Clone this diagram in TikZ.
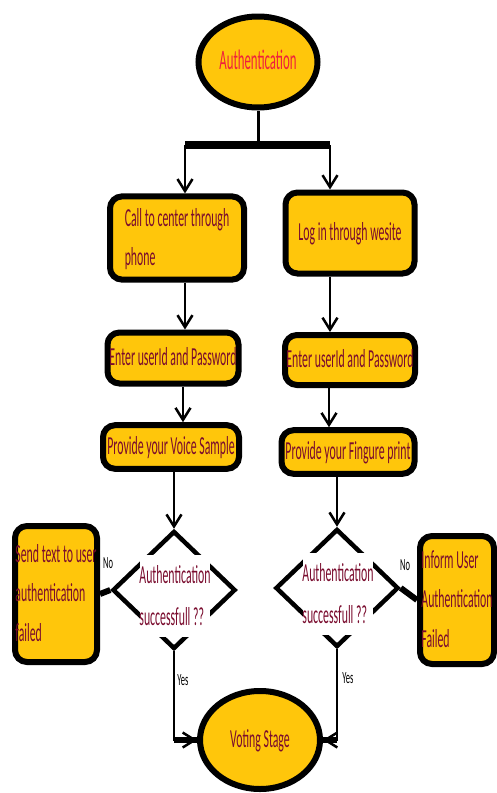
\documentclass[tikz,border=0pt]{standalone}
\usepackage{fontspec}
\setmainfont{Carlito}
\usetikzlibrary{shapes.geometric,arrows.meta}

\definecolor{boxgold}{HTML}{FFC60B}
\definecolor{txtmaroon}{HTML}{7A0C2E}
\definecolor{txtred}{HTML}{F0203C}

% tall narrow lettering, one or more lines
\newcommand{\tall}[1]{\scalebox{1}[2.2]{\begin{tabular}{@{}l@{}}#1\end{tabular}}}

\tikzset{
  stepbox/.style={rectangle, rounded corners=12pt, draw=black, line width=6pt,
    fill=boxgold, text=txtmaroon, inner xsep=0pt, inner ysep=2pt},
  endpoint/.style={ellipse, draw=black, line width=6pt, fill=boxgold, inner sep=0pt},
  decision/.style={diamond, draw=black, line width=4.5pt, fill=white,
    minimum width=123pt, minimum height=118pt, inner sep=0pt},
  decisiontext/.style={fill=white, inner sep=-1pt, text=txtmaroon,
    font=\fontsize{11.8}{19}\selectfont},
  conn/.style={line width=2.5pt, -{Straight Barb[length=12pt,width=15pt]}},
  tag/.style={font=\fontsize{8.5}{10}\selectfont, inner sep=0pt},
}

\begin{document}
\begin{tikzpicture}[x=1pt, y=-1pt, font=\fontsize{11.8}{18}\selectfont]
    \useasboundingbox (0,0) rectangle (497,793);

    % Start
    \node[endpoint, minimum width=119pt, minimum height=91pt, text=txtred,
      font=\fontsize{12.8}{18}\selectfont] (auth) at (258,62) {\tall{Authentication}};

    % Left branch: phone
    \node[stepbox, minimum width=134pt, minimum height=81pt] (call) at (177,238)
      {\tall{Call to center through\\phone}};
    \node[stepbox, minimum width=131pt, minimum height=51pt] (enter1) at (173,358)
      {\tall{Enter userId and Password}};
    \node[stepbox, minimum width=136pt, minimum height=41pt] (voice) at (171,447)
      {\tall{Provide your Voice Sample}};

    % Right branch: website
    \node[stepbox, minimum width=129pt, minimum height=81pt] (login) at (350,233)
      {\tall{Log in through wesite}};
    \node[stepbox, minimum width=130pt, minimum height=50pt] (enter2) at (350,360)
      {\tall{Enter userId and Password}};
    \node[stepbox, minimum width=133pt, minimum height=43pt] (finger) at (348,452)
      {\tall{Provide your Fingure print}};

    % Decisions
    \node[decision] (dec1) at (174,590) {};
    \node[decisiontext] (dec1txt) at (175,596) {\tall{Authentication\\successfull ??}};
    \node[decision] (dec2) at (337,588) {};
    \node[decisiontext] (dec2txt) at (338,594) {\tall{Authentication\\successfull ??}};

    % Failures
    \node[stepbox, minimum width=82pt, minimum height=136pt] (fail1) at (56,594)
      {\tall{Send text to user\\authentication\\failed}};
    \node[stepbox, minimum width=74pt, minimum height=128pt] (fail2) at (457,600)
      {\tall{Inform User\\Authentication\\Failed}};

    % End
    \node[endpoint, minimum width=120pt, minimum height=98pt, text=txtmaroon] (vote) at (260,740)
      {\tall{Voting Stage}};

    % Split after start
    \coordinate (split) at (258,145);
    \coordinate (barL) at (185,145);
    \coordinate (barR) at (330,145);
    \draw[line width=3pt] (auth.south) -- (split);
    \draw[line width=8pt] (barL) -- (barR);
    \draw[conn] (barL) -- (barL |- call.north);
    \draw[conn] (barR) -- (barR |- login.north);

    % Steps
    \draw[conn] ([xshift=8pt]call.south) -- ([xshift=8pt]call.south |- enter1.north);
    \draw[conn] ([xshift=10pt]enter1.south) -- ([xshift=10pt]enter1.south |- voice.north);
    \draw[conn] (voice.south -| dec1.north) -- (dec1.north);
    \draw[conn] ([xshift=-20pt]login.south) -- ([xshift=-20pt]login.south |- enter2.north);
    \draw[conn] ([xshift=-21pt]enter2.south) -- ([xshift=-21pt]enter2.south |- finger.north);
    \draw[conn] (finger.south -| dec2.north) -- (dec2.north);

    % No
    \draw[line width=6pt] (dec1.west) -- (fail1.east);
    \draw[line width=6pt] (dec2.east) -- (fail2.west);
    \node[tag] (no1) at (108,563) {\scalebox{1}[2]{No}};
    \node[tag] (no2) at (405,565) {\scalebox{1}[2]{No}};

    % Yes
    \coordinate (yes1) at (dec1.south |- vote.west);
    \coordinate (yes2) at (dec2.south |- vote.east);
    \draw[conn] (dec1.south) -- (yes1) -- (vote.west);
    \draw[conn] (dec2.south) -- (yes2) -- (vote.east);
    \draw[line width=6pt] (yes1) -- (vote.west);
    \draw[line width=6pt] (yes2) -- (vote.east);
    \node[tag] (yestag1) at (183,680) {\scalebox{1}[2]{Yes}};
    \node[tag] (yestag2) at (348,678) {\scalebox{1}[2]{Yes}};
\end{tikzpicture}
\end{document}
